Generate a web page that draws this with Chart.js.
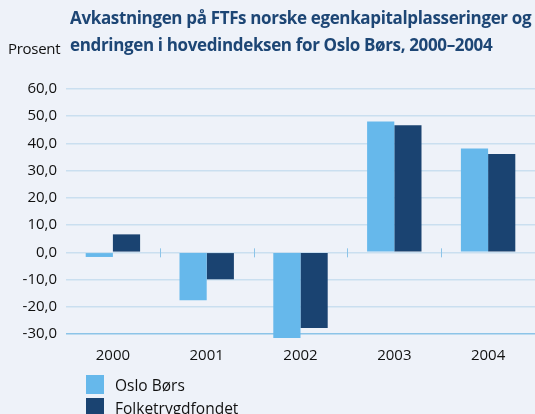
<!DOCTYPE html>
<html>
<head>
<meta charset="utf-8">
<script src="https://cdn.jsdelivr.net/npm/chart.js@4"></script>
<style>
  html, body { margin: 0; padding: 0; }
  body { width: 535px; height: 414px; background: #eef2f9; position: relative; overflow: hidden; font-family: "Open Sans", sans-serif; }
  #title { position: absolute; left: 70px; top: 4px; color: #1d4675; font-weight: bold; font-size: 17px; line-height: 27px; white-space: nowrap; letter-spacing: -0.35px; }
  #unit { position: absolute; left: 8px; top: 38px; color: #111; font-size: 15px; letter-spacing: -0.3px; }
  #legend { position: absolute; left: 86px; top: 373px; }
  .item { display: flex; align-items: center; height: 23px; font-size: 15.5px; color: #111; }
  .box { width: 18px; height: 19px; margin-right: 11px; }
  #wrap { position: absolute; left: 0; top: 0; width: 535px; height: 414px; }
</style>
</head>
<body>
<div id="wrap"><canvas id="chart" width="535" height="414"></canvas></div>
<div id="title">Avkastningen på FTFs norske egenkapitalplasseringer og<br>endringen i hovedindeksen for Oslo Børs, 2000–2004</div>
<div id="unit">Prosent</div>
<div id="legend"></div>
<script>
    const years = ['2000', '2001', '2002', '2003', '2004'];
    const osloBors = [-1.7, -17.6, -31.5, 48.1, 38.1];
    const folketrygdfondet = [6.6, -9.9, -27.8, 46.7, 36.1];
    const seriesNames = ['Oslo Børs', 'Folketrygdfondet'];
    const seriesColors = ['#66b8eb', '#1a4371'];
    const yTicks = [60, 50, 40, 30, 20, 10, 0, -10, -20, -30];

    // small tick marks between the years, sitting on the zero line
    const zeroTicks = {
      id: 'zeroTicks',
      afterDatasetsDraw(chart) {
        const x = chart.scales.x;
        const y = chart.scales.y;
        const ctx = chart.ctx;
        const y0 = y.getPixelForValue(0);
        const half = (x.getPixelForValue(1) - x.getPixelForValue(0)) / 2;
        ctx.save();
        ctx.strokeStyle = '#8cc4e8';
        ctx.lineWidth = 1;
        for (let i = 0; i < years.length - 1; i++) {
          const px = Math.round(x.getPixelForValue(i) + half) + 0.5;
          ctx.beginPath();
          ctx.moveTo(px, y0 - 4);
          ctx.lineTo(px, y0 + 5);
          ctx.stroke();
        }
        ctx.restore();
      }
    };

    const ctx = document.getElementById('chart').getContext('2d');
    const chart = new Chart(ctx, {
      type: 'bar',
      data: {
        labels: years,
        datasets: [
          { label: seriesNames[0], data: osloBors, backgroundColor: seriesColors[0], clip: false },
          { label: seriesNames[1], data: folketrygdfondet, backgroundColor: seriesColors[1], clip: false }
        ]
      },
      options: {
        responsive: false,
        animation: false,
        layout: { padding: { top: 89, right: 0, left: 0, bottom: 0 } },
        plugins: { legend: { display: false }, tooltip: { enabled: false } },
        datasets: { bar: { categoryPercentage: 0.58, barPercentage: 1.0 } },
        scales: {
          x: {
            grid: { display: false },
            border: { display: false },
            ticks: { color: '#111', font: { family: 'Open Sans', size: 15 }, padding: 5 },
            afterFit(scale) { scale.height = 80; }
          },
          y: {
            min: -30,
            max: 60,
            afterBuildTicks(scale) { scale.ticks = yTicks.map(v => ({ value: v })); },
            grid: {
              color: c => c.tick && c.tick.value === -30 ? '#8cc4e8' : '#cadff0',
              lineWidth: 1.5,
              drawTicks: false
            },
            border: { display: false },
            ticks: {
              color: '#111',
              font: { family: 'Open Sans', size: 15 },
              padding: 9,
              callback: v => v.toFixed(1).replace('.', ',')
            },
            afterFit(scale) { scale.width = 66; }
          }
        }
      },
      plugins: [zeroTicks]
    });

    const legend = document.getElementById('legend');
    seriesNames.forEach((name, i) => {
      const item = document.createElement('div');
      item.className = 'item';
      const box = document.createElement('span');
      box.className = 'box';
      box.style.background = seriesColors[i];
      const text = document.createElement('span');
      text.textContent = name;
      item.appendChild(box);
      item.appendChild(text);
      legend.appendChild(item);
    });
</script>
</body>
</html>
